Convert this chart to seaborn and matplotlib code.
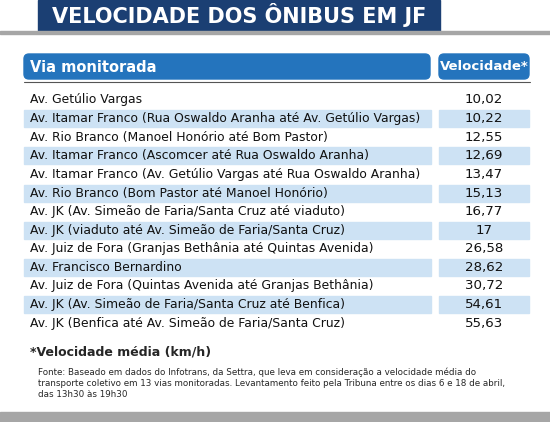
import matplotlib
matplotlib.use("Agg")
import matplotlib.pyplot as plt
from matplotlib.patches import Rectangle, FancyBboxPatch
import seaborn as sns

sns.set_theme(style="white")
plt.rcParams['font.family'] = ['DejaVu Sans']

title = "VELOCIDADE DOS ÔNIBUS EM JF"
header_via = "Via monitorada"
header_vel = "Velocidade*"
vias = [
    "Av. Getúlio Vargas",
    "Av. Itamar Franco (Rua Oswaldo Aranha até Av. Getúlio Vargas)",
    "Av. Rio Branco (Manoel Honório até Bom Pastor)",
    "Av. Itamar Franco (Ascomcer até Rua Oswaldo Aranha)",
    "Av. Itamar Franco (Av. Getúlio Vargas até Rua Oswaldo Aranha)",
    "Av. Rio Branco (Bom Pastor até Manoel Honório)",
    "Av. JK (Av. Simeão de Faria/Santa Cruz até viaduto)",
    "Av. JK (viaduto até Av. Simeão de Faria/Santa Cruz)",
    "Av. Juiz de Fora (Granjas Bethânia até Quintas Avenida)",
    "Av. Francisco Bernardino",
    "Av. Juiz de Fora (Quintas Avenida até Granjas Bethânia)",
    "Av. JK (Av. Simeão de Faria/Santa Cruz até Benfica)",
    "Av. JK (Benfica até Av. Simeão de Faria/Santa Cruz)",
]
velocidades = ["10,02", "10,22", "12,55", "12,69", "13,47", "15,13", "16,77",
               "17", "26,58", "28,62", "30,72", "54,61", "55,63"]
nota = "*Velocidade média (km/h)"
fonte = ("Fonte: Baseado em dados do Infotrans, da Settra, que leva em consideração a velocidade média do\n"
         "transporte coletivo em 13 vias monitoradas. Levantamento feito pela Tribuna entre os dias 6 e 18 de abril,\n"
         "das 13h30 às 19h30")

fig = plt.figure(figsize=(5.5, 4.22), dpi=100)
ax = fig.add_axes([0, 0, 1, 1])
ax.set_xlim(0, 550); ax.set_ylim(422, 0); ax.axis("off")

navy = "#1b3f73"; blue = "#2474bd"; light = "#cde2f4"; grey = "#a6a6a6"
ax.add_patch(Rectangle((38, 0), 402, 31, color=navy))
ax.text(239, 15, title, color="white", fontsize=15, fontweight="bold", ha="center", va="center")
ax.add_patch(Rectangle((0, 31), 550, 3, color=grey))

ax.add_patch(FancyBboxPatch((24, 54), 406, 25, boxstyle="round,pad=0,rounding_size=5", color=blue))
ax.add_patch(FancyBboxPatch((439, 54), 90, 25, boxstyle="round,pad=0,rounding_size=5", color=blue))
ax.text(30, 67, header_via, color="white", fontsize=10.5, fontweight="bold", va="center")
ax.text(484, 67, header_vel, color="white", fontsize=9.5, fontweight="bold", va="center", ha="center")
ax.plot([24, 530], [82, 82], color="#555555", lw=0.8)

step = 18.6
for i, (v, s) in enumerate(zip(vias, velocidades)):
    y = 100 + i * step
    if i % 2 == 1:
        ax.add_patch(Rectangle((24, y - 8.5), 407, 17, color=light))
        ax.add_patch(Rectangle((439, y - 8.5), 90, 17, color=light))
    ax.text(30, y, v, fontsize=8.9, va="center", color="#111111")
    ax.text(484, y, s, fontsize=9.6, va="center", ha="center", color="#111111")

ax.text(30, 352, nota, fontsize=9, fontweight="bold", va="center")
ax.text(38, 383, fonte, fontsize=6.3, va="center", linespacing=1.3)
ax.add_patch(Rectangle((0, 412), 550, 10, color=grey))

fig.savefig("out.png", dpi=100)
